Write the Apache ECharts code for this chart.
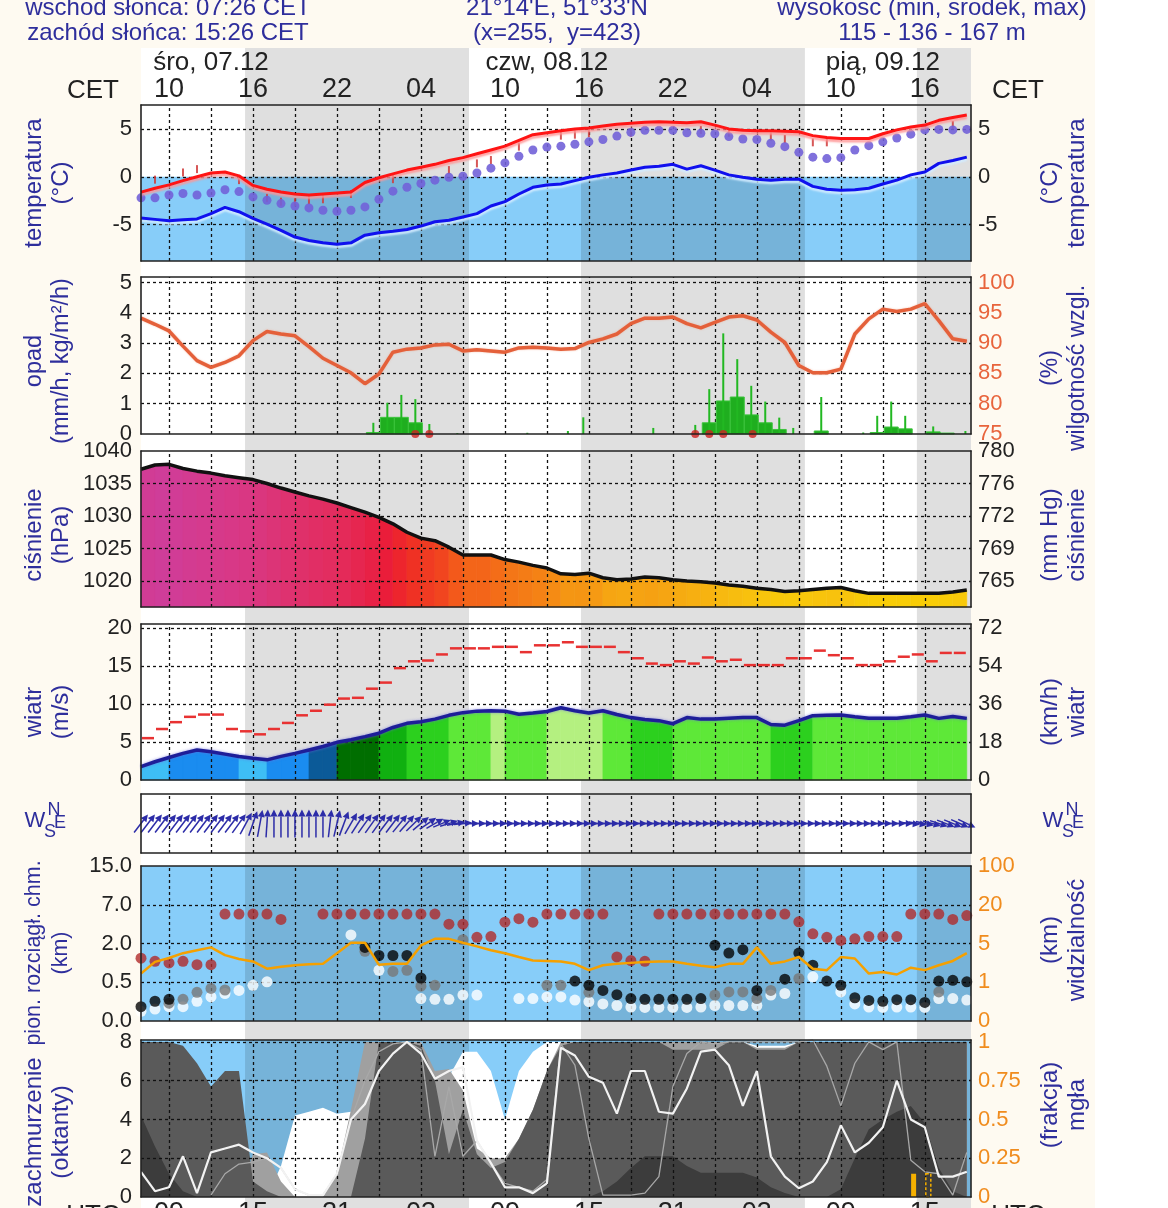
<!DOCTYPE html>
<html lang="pl">
<head>
<meta charset="utf-8">
<title>meteogram</title>
<script src="https://cdn.jsdelivr.net/npm/echarts@6/dist/echarts.min.js"></script>
<style>
html,body{margin:0;padding:0;background:#fefaf1;}
#chart{width:1168px;height:1208px;}
</style>
</head>
<body>
<div id="chart"></div>
<script>
// ================= DATA =================
// time axis: hours since 07.12 08:00 CET (hourly model output)
const hours = Array.from({length: 60}, (_, i) => i);
const startCET = 8;
const sunriseCET = 7 + 26 / 60;   // 07:26
const sunsetCET = 15 + 26 / 60;   // 15:26
const HMAX = 59.3;

const tickHours = [2, 8, 14, 20, 26, 32, 38, 44, 50, 56];
const tickCET = ['10', '16', '22', '04', '10', '16', '22', '04', '10', '16'];
const tickUTC = ['09', '15', '21', '03', '09', '15', '21', '03', '09', '15'];
const dayLabels = ['śro, 07.12', 'czw, 08.12', 'pią, 09.12'];
const dayLabelHours = [5, 29, 53];

// temperature panel (°C)
const tempAir = [-1.6,-1.2,-0.85,-0.4,0.0,0.4,0.5,0.1,-0.9,-1.3,-1.6,-1.8,-1.9,-1.8,-1.7,-1.6,-0.6,-0.1,0.3,0.7,1.0,1.3,1.7,2.0,2.4,2.8,3.2,3.8,4.4,4.6,4.8,5.0,5.1,5.3,5.5,5.6,5.7,5.75,5.7,5.65,5.75,5.4,5.0,4.85,4.8,4.8,4.75,4.7,4.3,4.1,4.0,4.0,4.0,4.5,4.9,5.2,5.4,5.9,6.2,6.45];
const tempDew = [-4.3,-4.45,-4.6,-4.5,-4.4,-3.85,-3.2,-3.65,-4.35,-4.95,-5.6,-6.3,-6.65,-6.9,-7.05,-6.9,-6.1,-5.85,-5.7,-5.5,-5.15,-4.7,-4.55,-4.2,-3.85,-3.05,-2.6,-1.8,-1.1,-0.85,-0.75,-0.4,-0.05,0.2,0.4,0.7,1.0,1.1,1.3,0.8,1.15,0.7,0.2,-0.05,-0.25,-0.35,-0.25,-0.25,-1.0,-1.3,-1.4,-1.35,-1.2,-0.75,-0.35,0.2,0.5,1.4,1.7,2.05];
const tempFelt = [-2.2,-2.2,-1.9,-1.75,-1.9,-1.7,-1.35,-1.55,-2.1,-2.45,-2.8,-3.05,-3.25,-3.5,-3.6,-3.5,-3.15,-2.35,-1.5,-1.1,-0.7,-0.35,-0.05,0.05,0.4,0.9,1.45,2.15,2.8,3.1,3.2,3.4,3.65,3.9,4.25,4.65,4.85,4.85,4.85,4.6,4.55,4.5,4.2,3.95,3.9,3.5,3.15,2.55,2.05,1.9,2.0,2.8,3.25,3.65,4.05,4.45,4.9,4.95,4.9,4.95];
const tempTick = [null,-0.3,null,0.45,0.8,null,null,-0.35,null,-2.2,-2.6,-2.65,-2.45,-2.35,null,-1.8,null,null,-0.25,null,null,null,0.7,null,1.4,1.75,null,3.15,null,null,4.3,4.4,4.55,null,null,4.6,null,null,null,null,4.9,null,4.6,null,null,4.2,3.95,null,3.6,3.6,null,null,null,null,null,null,null,null,5.4,null];

// precipitation (mm/h) and relative humidity (%)
const precipT = [16.6,17.6,18.6,19.6,40.6,41.6,42.6,43.6,44.6,45.6,48.6,52.6,53.6,54.6,56.6,57.6];
const precipV = [0.05,0.55,0.55,0.37,0.37,1.09,1.22,0.63,0.37,0.15,0.1,0.05,0.23,0.17,0.07,0.03];
const spikeT = [16.6,17.6,18.6,19.6,20.6,22.6,27.6,30.5,31.6,36.6,39.6,40.6,41.6,42.6,43.6,44.6,45.6,46.6,48.6,51.6,52.6,53.6,54.6,56.6,58.9];
const spikeV = [0.37,1.03,1.29,1.15,0.33,0.03,0.04,0.1,0.55,0.2,0.3,1.48,3.32,2.47,1.59,1.07,0.54,0.2,1.22,0.05,0.6,1.07,0.6,0.25,0.1];
const snowT = [19.6,20.6,39.6,40.6,41.6,43.7];
const humidity = [94.1,93.1,92.0,89.5,87.1,86.0,86.8,87.9,90.4,91.9,91.5,91.2,89.4,87.5,86.3,85.1,83.3,84.9,88.5,89.0,89.2,89.7,89.8,88.7,88.9,88.7,88.5,89.2,89.3,89.2,89.0,89.1,90.1,90.7,91.5,93.2,94.1,94.1,94.3,93.2,92.5,93.4,94.3,94.5,93.8,91.8,90.1,86.3,85.1,85.1,85.7,91.5,94.0,95.6,95.2,95.6,96.5,93.7,90.7,90.3];
const humTicks = [75, 80, 85, 90, 95, 100];

// pressure (hPa)
const pressure = [1037.2,1037.85,1037.95,1037.3,1036.9,1036.6,1036.2,1035.9,1035.6,1035.0,1034.3,1033.7,1033.1,1032.6,1032.0,1031.3,1030.6,1029.8,1028.8,1027.5,1026.6,1026.2,1025.2,1024.0,1024.0,1024.0,1023.3,1022.9,1022.4,1022.0,1021.1,1021.0,1021.2,1020.5,1020.2,1020.3,1020.6,1020.5,1020.2,1020.0,1019.9,1019.7,1019.4,1019.2,1018.9,1018.7,1018.4,1018.5,1018.7,1018.9,1019.0,1018.5,1018.1,1018.1,1018.1,1018.1,1018.1,1018.1,1018.3,1018.6];
const presTicks = [1020, 1025, 1030, 1035, 1040];
const presTicksMmHg = ['765', '769', '772', '776', '780'];

// wind (m/s)
const windSpeed = [1.75,2.4,2.95,3.5,3.95,3.7,3.4,3.1,2.85,2.65,3.1,3.5,3.95,4.4,4.95,5.3,5.7,6.15,6.9,7.45,7.65,8.0,8.5,8.85,9.05,9.1,9.05,8.65,8.8,9.0,9.5,9.1,8.8,9.1,8.6,8.2,7.95,7.8,7.4,8.2,8.0,8.0,8.1,8.2,8.2,7.3,7.2,7.8,8.45,8.5,8.55,8.3,8.1,8.1,8.1,8.3,8.55,8.1,8.35,8.1];
const windGust = [5.5,6.7,7.6,8.3,8.6,8.6,6.7,6.4,6.0,6.7,7.5,8.5,9.1,9.9,10.7,10.8,12.0,12.8,14.7,15.6,15.7,16.5,17.3,17.3,17.3,17.5,17.5,16.8,17.7,17.7,18.1,17.5,17.5,17.5,16.8,16.0,15.3,15.1,15.6,15.3,16.1,15.6,15.8,15.1,15.1,15.1,16.0,16.0,17.0,16.4,16.0,15.1,15.1,15.6,16.2,16.5,15.6,16.7,16.7];
const windClass = [0,0,1,1,1,1,1,0,0,1,1,1,2,2,3,3,3,4,4,5,5,5,6,6,6,7,6,6,6,7,7,7,7,6,6,5,5,5,6,6,6,6,6,6,6,5,5,5,6,6,6,6,6,6,6,6,6,6,6];
const kmhTicks = [0, 18, 36, 54, 72];
// wind direction (deg, from), every half hour from 0 h
const windDir = [230,230,230,230,230,230,230,230,230,230,230,230,230,230,228,
  220,208,196,186,
  180,180,180,180,180,180,180,180,
  190,200,210,
  222,225,228,228,228,230,230,232,234,
  238,242,246,250,255,259,263,266,
  270,270,270,270,270,270,270,270,270,270,270,270,270,270,270,270,270,270,270,270,270,270,270,270,270,270,270,270,270,270,270,270,270,270,270,270,270,270,270,270,270,270,270,270,270,270,270,270,270,270,270,270,270,270,270,270,270,270,270,270,270,270,270,
  274,276,278,280,282,284,285,286,287];

// vertical cloud extent (km) and visibility (km)
const baseTicks = [0, 0.5, 2, 7, 15];
const baseLabels = ['0.0', '0.5', '2.0', '7.0', '15.0'];
const visTicks = [0, 1, 5, 20, 100];
const visLabels = ['0', '1', '5', '20', '100'];
const cloudTop = [1.43,1.31,1.25,1.31,1.18,1.18,5.8,5.8,5.8,5.8,5.1,null,null,5.8,5.8,5.8,5.8,5.8,5.8,5.8,5.8,5.8,4.5,4.5,2.8,2.9,4.75,5.2,4.75,5.8,5.8,5.8,5.8,5.8,1.48,1.34,1.31,5.8,5.8,5.8,5.8,5.8,5.8,5.8,5.8,5.8,5.8,4.8,3.25,2.8,2.4,2.6,2.9,2.9,2.9,5.8,5.8,5.8,5.1,5.6];
const baseBlack = [0.185,0.255,0.28,null,null,null,null,null,null,null,null,null,null,null,null,null,1.85,1.535,1.535,1.535,0.665,null,null,null,null,null,null,null,null,null,null,0.545,0.46,0.395,0.34,0.29,0.28,0.28,0.28,0.28,0.29,1.93,1.63,1.76,0.395,null,0.62,1.63,1.16,0.545,0.46,0.3,0.265,0.255,0.275,0.275,0.24,0.545,0.575,0.515];
const baseGray = [null,null,0.23,0.28,0.37,0.42,0.4,null,null,null,null,null,null,null,null,null,1.7,null,0.92,0.965,0.45,0.46,null,2.5,null,null,null,null,null,0.46,0.46,null,0.37,null,null,null,null,null,null,null,null,0.335,0.375,0.375,0.29,0.395,null,0.65,null,null,null,null,null,null,null,null,null,0.375,null,null];
const baseWhite = [0.125,0.155,0.185,0.185,0.255,0.31,0.355,0.395,0.46,0.515,null,null,null,null,null,3.1,null,0.965,null,null,0.29,0.28,0.28,0.335,0.335,null,null,0.29,0.29,0.31,0.31,0.27,0.25,0.22,0.2,0.18,0.175,0.175,0.175,0.175,0.18,0.2,0.2,0.2,0.2,0.335,0.355,null,0.71,null,0.375,0.22,0.18,0.175,0.18,0.18,0.175,0.29,0.29,0.27];
const visibility = [1.9,3.1,3.5,4.0,4.3,4.6,3.8,3.4,3.15,2.4,2.6,2.75,2.85,2.9,4.0,5.3,5.3,2.8,2.9,2.9,4.8,6.8,6.8,5.3,4.7,4.3,4.0,3.6,3.25,3.2,3.15,2.9,2.25,2.75,2.9,3.0,3.1,3.15,3.15,2.9,2.7,2.55,2.9,2.9,4.6,2.9,3.15,3.6,2.4,2.25,3.6,3.45,1.9,2.05,1.8,2.5,2.25,2.75,3.2,4.0];

// cloud cover (oktas) and fog (fraction)
const coverHigh = [0,0,0,0,0,0,0,0,0,0,1.6,4.2,4.4,4.6,4.3,4.4,5,8,8,8,8,6.1,6.2,7.5,7.5,6.5,4.0,6.5,7.5,8,8,8,8,8,8,8,8,8,8,8,8,8,8,8,7.8,7.8,7.8,8,8,8,8,8,8,8,8,8,8,8,8,8];
const coverMid = [0,0,0,0,0,0,0,0,2.2,2.3,0.8,0,0,0,1.2,4.5,8,8,8,8,8,6.5,6.6,5.5,2.5,2.0,2.0,3.0,4.5,6.5,8,8,8,8,8,8,8,8,8,8,8,8,8,8,7.7,7.7,7.7,8,8,8,8,8,8,8,8,8,8,8,8,8];
const coverLow = [8,8,8,7.8,6.9,5.7,6.5,6.5,0.8,0.3,0,0,0,0,0,0,3,8,8,8,7.8,6.0,2.2,4.5,2.2,1.5,1.8,3.0,4.5,6.5,7.8,8,8,8,8,8,8,8,7.6,7.6,7.6,7.6,8,8,7.6,7.6,7.6,8,8,8,8,8,8,8,8,8,8,8,8,8];
const coverConv = [4.2,2.6,1.2,0.3,0,0,0,0,0,0,0,0,0,0,0,0,0,0,0,0,0,0,0,0,0,0,0,0,0,0,0,0,0,0.3,0.8,1.5,2.1,2.1,2.1,1.6,1.25,1.25,1.25,1.25,1.0,0.5,0.2,0,0,0,0.4,2.0,3.5,4.0,4.4,4.7,3.8,1.5,0.3,0];
const lineBright = [1.3,0.3,0.5,2.1,0.2,2.3,2.5,2.7,2.3,2.0,1.5,0.4,0.1,0.1,1.2,4.0,4.8,6.5,7.4,8.0,7.4,6.1,6.5,6.7,2.9,1.75,0.5,0.5,0.2,0.7,7.7,7.3,6.2,5.9,4.3,6.5,6.5,4.4,4.3,5.6,7.5,7.6,6.8,4.7,6.5,2.1,1.05,0.45,0.8,1.8,3.7,2.3,2.8,3.6,6.0,4.0,3.6,1.05,1.05,1.3];
const lineDim = [null,null,null,null,null,0.1,1.2,1.7,1.8,2.0,1.5,0.4,0.1,0.1,1.2,4.0,6.0,7.5,7.9,8.0,7.6,2.1,5.7,2.1,2.9,1.75,0.7,0.5,0.3,0.9,7.9,6.8,3.0,0.1,0.1,0.1,0.2,1.05,5.7,7.4,8.0,7.9,8.0,8.0,8.0,8.0,8.0,8.0,8.1,6.75,4.7,6.9,8.0,7.6,8.0,1.9,1.3,1.2,0.1,2.3];
const fogT = [55.2, 56.25];
const fogV = [0.15, 0.15];
const fogTicks = [0, 0.25, 0.5, 0.75, 1];

// ================= HELPERS =================
const FN = "'Liberation Sans',Arial,sans-serif";
const NAVY = '#2e2e9c';
const pairs = arr => hours.map((h, i) => [h, arr[i]]);
const toIdx = (v, ticks) => {
  if (v == null) return null;
  for (let i = 0; i < ticks.length - 1; i++) {
    if (v <= ticks[i + 1]) return i + (v - ticks[i]) / (ticks[i + 1] - ticks[i]);
  }
  return ticks.length - 1;
};
const nightSpans = [
  [sunsetCET - startCET, sunriseCET + 24 - startCET],
  [sunsetCET + 24 - startCET, sunriseCET + 48 - startCET],
  [sunsetCET + 48 - startCET, HMAX]
];
const vGrid = [];
tickHours.forEach(t => { vGrid.push(t); if (t + 3 < 58) vGrid.push(t + 3); });

function lerpColor(stops, v) {
  if (v <= stops[0][0]) return stops[0][1];
  for (let i = 0; i < stops.length - 1; i++) {
    const [a, ca] = stops[i], [b, cb] = stops[i + 1];
    if (v <= b) {
      const t = (v - a) / (b - a);
      const pa = [1, 3, 5].map(k => parseInt(ca.substr(k, 2), 16));
      const pb = [1, 3, 5].map(k => parseInt(cb.substr(k, 2), 16));
      return 'rgb(' + pa.map((x, k) => Math.round(x + (pb[k] - x) * t)).join(',') + ')';
    }
  }
  return stops[stops.length - 1][1];
}
const presStops = [[1017.5,'#f9d400'],[1018.7,'#f8c60c'],[1019.6,'#f7b810'],[1020.4,'#f6a412'],[1021.5,'#f58c14'],[1023.5,'#f47018'],[1025,'#f2501c'],[1027.5,'#ee2a26'],[1029.5,'#ea1c3c'],[1031.5,'#e42a58'],[1034,'#de3270'],[1036,'#d83886'],[1038,'#cf3d9a']];
const windPalette = ['#3ebef5', '#1a8cf0', '#0b5a98', '#006e00', '#10b010', '#2cd01e', '#5ee838', '#b4f080'];

// ================= PANELS =================
const panels = [
  {top: 105, h: 156, min: -8.8, max: 7.5},   // 1 temperature
  {top: 277, h: 157, min: 0, max: 5.18},     // 2 precipitation
  {top: 451, h: 156, min: 1016, max: 1040},  // 3 pressure
  {top: 624, h: 156, min: 0, max: 20.5},     // 4 wind
  {top: 794, h: 59, min: 0, max: 1},         // 5 wind direction
  {top: 866, h: 155, min: 0, max: 4},        // 6 clouds / visibility
  {top: 1040, h: 157, min: 0, max: 8.1}      // 7 cloud cover
];
// right-axis ranges derived from left-axis ranges
const rightRange = [
  [panels[0].min, panels[0].max],
  [75 + panels[1].min * 5, 75 + panels[1].max * 5],
  [panels[2].min, panels[2].max],
  [panels[3].min * 3.6, panels[3].max * 3.6],
  [0, 1],
  [panels[5].min, panels[5].max],
  [panels[6].min / 8, panels[6].max / 8]
];

const gridBase = {left: 141, width: 830, show: true, backgroundColor: '#fff', borderWidth: 0, outerBoundsMode: 'none', containLabel: false};
const grids = [Object.assign({}, gridBase, {top: 48, height: 1160, z: -30})];
panels.forEach(p => grids.push(Object.assign({}, gridBase, {top: p.top, height: p.h, z: -10})));

const LBL = {fontFamily: FN, fontSize: 22, color: '#222'};
const border = {show: true, onZero: false, lineStyle: {color: '#222', width: 1.6}};
const xAxes = [{gridIndex: 0, type: 'value', min: 0, max: HMAX, show: false}];
const yAxes = [{gridIndex: 0, type: 'value', min: 0, max: 1, show: false}];

const axCfg = [
  {lvals: [-5, 0, 5], lfmt: v => String(v), rvals: [-5, 0, 5], rfmt: v => String(v), rcol: '#222'},
  {lvals: [0,1,2,3,4,5], lfmt: v => String(v), rvals: humTicks, rfmt: v => String(v), rcol: '#e8643c'},
  {lvals: presTicks, lfmt: v => String(v), rvals: presTicks, rfmt: v => presTicksMmHg[presTicks.indexOf(v)], rcol: '#222'},
  {lvals: [0,5,10,15,20], lfmt: v => String(v), rvals: kmhTicks, rfmt: v => String(v), rcol: '#222'},
  {lvals: [], lfmt: v => '', rvals: [], rfmt: v => '', rcol: '#222'},
  {lvals: [0,1,2,3,4], lfmt: v => baseLabels[v], rvals: [0,1,2,3,4], rfmt: v => visLabels[v], rcol: '#f08c1e'},
  {lvals: [0,2,4,6,8], lfmt: v => String(v), rvals: fogTicks, rfmt: v => String(v), rcol: '#f08c1e'}
];

panels.forEach((p, k) => {
  const gi = k + 1;
  const cfg = axCfg[k];
  const xb = {gridIndex: gi, type: 'value', min: 0, max: HMAX, z: 20, splitLine: {show: false}, axisTick: {show: false}, axisLabel: {show: false}, axisLine: border};
  const bottom = Object.assign({}, xb, {position: 'bottom'});
  const top = Object.assign({}, xb, {position: 'top'});
  if (k === 0) {
    top.axisLabel = {show: true, fontFamily: FN, fontSize: 27, color: '#222', margin: 2, customValues: tickHours, formatter: v => tickCET[tickHours.indexOf(v)]};
  }
  if (k === 6) {
    bottom.axisLabel = {show: true, fontFamily: FN, fontSize: 27, color: '#222', margin: 3, customValues: tickHours, formatter: v => tickUTC[tickHours.indexOf(v)]};
  }
  xAxes.push(bottom, top);
  const yb = {gridIndex: gi, type: 'value', z: 20, splitLine: {show: false}, axisTick: {show: false}, axisLine: border};
  yAxes.push(Object.assign({}, yb, {position: 'left', min: p.min, max: p.max, axisLabel: Object.assign({}, LBL, {margin: 9, customValues: cfg.lvals, formatter: cfg.lfmt})}));
  yAxes.push(Object.assign({}, yb, {position: 'right', min: rightRange[k][0], max: rightRange[k][1], axisLabel: Object.assign({}, LBL, {color: cfg.rcol, margin: 7, customValues: cfg.rvals, formatter: cfg.rfmt})}));
});
// day labels axis on temperature grid
xAxes.push({gridIndex: 1, type: 'value', min: 0, max: HMAX, position: 'top', z: 20, axisLine: {show: false}, axisTick: {show: false}, splitLine: {show: false},
  axisLabel: {show: true, fontFamily: FN, fontSize: 26, color: '#222', margin: 29, customValues: dayLabelHours, formatter: v => dayLabels[dayLabelHours.indexOf(v)]}});

const XI = k => 2 * k - 1;  // bottom x axis index of panel k (1..7)
const YL = k => 2 * k - 1;
const YR = k => 2 * k;

const series = [];
// backdrop night bands (also visible between panels)
series.push({type: 'line', xAxisIndex: 0, yAxisIndex: 0, data: [], silent: true,
  markArea: {silent: true, z: -25, itemStyle: {color: '#e0e0e0'}, data: nightSpans.map(s => [{xAxis: s[0]}, {xAxis: s[1]}])}});

function helper(k, hLines, nightZ, gridZ) {
  const lines = vGrid.map(h => ({xAxis: h})).concat(hLines.map(v => ({yAxis: v})));
  return {type: 'line', xAxisIndex: XI(k), yAxisIndex: YL(k), data: [], silent: true,
    markArea: {silent: true, z: nightZ, itemStyle: {color: 'rgba(0,0,0,0.125)'}, data: nightSpans.map(s => [{xAxis: s[0]}, {xAxis: s[1]}])},
    markLine: {silent: true, z: gridZ, symbol: ['none', 'none'], label: {show: false}, lineStyle: {color: '#111', width: 1.3, type: [3, 3]}, emphasis: {disabled: true}, data: lines}};
}
function fillArea(k, y0, y1, color, z) {
  return {type: 'line', xAxisIndex: XI(k), yAxisIndex: YL(k), data: [], silent: true,
    markArea: {silent: true, z: z, itemStyle: {color: color}, data: [[{xAxis: 0, yAxis: y0}, {xAxis: HMAX, yAxis: y1}]]}};
}

// ---- 1 temperature ----
series.push(fillArea(1, panels[0].min, 0, '#87cdf9', 1));
series.push(helper(1, [-5, 0, 5], 2, 3));
series.push({type: 'scatter', xAxisIndex: XI(1), yAxisIndex: YL(1), z: 6, silent: true, symbol: 'rect', symbolSize: [2, 8], data: pairs(tempTick), itemStyle: {color: '#d03a3a', opacity: 0.85}});
series.push({type: 'scatter', xAxisIndex: XI(1), yAxisIndex: YL(1), z: 6, silent: true, symbolSize: 9, data: pairs(tempFelt), itemStyle: {color: '#7262d8', opacity: 0.9}});
series.push({type: 'line', xAxisIndex: XI(1), yAxisIndex: YL(1), z: 8, silent: true, symbol: 'none', data: pairs(tempDew),
  lineStyle: {color: '#1010ee', width: 3, shadowColor: 'rgba(210,235,255,0.95)', shadowBlur: 2, shadowOffsetY: 2.5}});
series.push({type: 'line', xAxisIndex: XI(1), yAxisIndex: YL(1), z: 8, silent: true, symbol: 'none', data: pairs(tempAir),
  lineStyle: {color: '#ff1414', width: 3, shadowColor: 'rgba(255,150,150,0.9)', shadowBlur: 2, shadowOffsetY: 2.5}});

// ---- 2 precipitation / humidity ----
series.push(helper(2, [1, 2, 3, 4, 5], 2, 3));
series.push({type: 'custom', xAxisIndex: XI(2), yAxisIndex: YL(2), z: 4, silent: true,
  data: precipT.map((t, i) => [t, precipV[i]]),
  renderItem: (params, api) => {
    const t = api.value(0), v = api.value(1);
    const a = api.coord([t - 0.5, v]), b = api.coord([t + 0.5, 0]);
    return {type: 'rect', shape: {x: a[0], y: a[1], width: b[0] - a[0], height: b[1] - a[1]}, style: {fill: '#1fae1f', stroke: '#3cc43c', lineWidth: 1}};
  }});
series.push({type: 'custom', xAxisIndex: XI(2), yAxisIndex: YL(2), z: 4, silent: true,
  data: spikeT.map((t, i) => [t, spikeV[i]]),
  renderItem: (params, api) => {
    const t = api.value(0), v = api.value(1);
    const a = api.coord([t, v]), b = api.coord([t, 0]);
    return {type: 'line', shape: {x1: a[0], y1: a[1], x2: b[0], y2: b[1]}, style: {stroke: '#22b822', lineWidth: 2}};
  }});
series.push({type: 'line', xAxisIndex: XI(2), yAxisIndex: YR(2), z: 8, silent: true, symbol: 'none', data: pairs(humidity),
  lineStyle: {color: '#e4603a', width: 3.5, shadowColor: 'rgba(240,150,120,0.6)', shadowBlur: 2}});
series.push({type: 'scatter', xAxisIndex: XI(2), yAxisIndex: YL(2), z: 9, silent: true, symbolSize: 8,
  data: snowT.map(t => [t, 0]), itemStyle: {color: '#d02020'}});

// ---- 3 pressure ----
series.push(helper(3, [1020, 1025, 1030, 1035], 2, 4));
series.push({type: 'custom', xAxisIndex: XI(3), yAxisIndex: YL(3), z: 3, silent: true,
  data: hours.slice(0, -1).map((h, i) => [h, pressure[i], hours[i + 1], pressure[i + 1]]),
  encode: {x: [0, 2], y: [1, 3]},
  renderItem: (params, api) => {
    const x0 = api.value(0), y0 = api.value(1), x1 = api.value(2), y1 = api.value(3);
    const base = panels[2].min;
    const pts = [api.coord([x0, y0]), api.coord([x1, y1]), api.coord([x1, base]), api.coord([x0, base])];
    const c = lerpColor(presStops, (y0 + y1) / 2);
    return {type: 'polygon', shape: {points: pts}, style: {fill: c, stroke: c, lineWidth: 0.6}};
  }});
series.push({type: 'line', xAxisIndex: XI(3), yAxisIndex: YL(3), z: 8, silent: true, symbol: 'none', data: pairs(pressure),
  lineStyle: {color: '#111', width: 3.5}});

// ---- 4 wind ----
series.push(helper(4, [5, 10, 15, 20], 2, 4));
series.push({type: 'custom', xAxisIndex: XI(4), yAxisIndex: YL(4), z: 3, silent: true,
  data: hours.slice(0, -1).map((h, i) => [h, windSpeed[i], hours[i + 1], windSpeed[i + 1], windClass[i]]),
  encode: {x: [0, 2], y: [1, 3]},
  renderItem: (params, api) => {
    const x0 = api.value(0), y0 = api.value(1), x1 = api.value(2), y1 = api.value(3), c = windPalette[api.value(4)];
    const pts = [api.coord([x0, y0]), api.coord([x1, y1]), api.coord([x1, 0]), api.coord([x0, 0])];
    return {type: 'polygon', shape: {points: pts}, style: {fill: c, stroke: c, lineWidth: 0.6}};
  }});
series.push({type: 'custom', xAxisIndex: XI(4), yAxisIndex: YL(4), z: 6, silent: true,
  data: windGust.map((g, i) => [hours[i], g]),
  renderItem: (params, api) => {
    const h = api.value(0), g = api.value(1);
    const a = api.coord([h, g]), b = api.coord([h + 1, g]);
    return {type: 'line', shape: {x1: a[0] + 1, y1: a[1], x2: b[0] - 1, y2: b[1]}, style: {stroke: '#e83232', lineWidth: 2.5}};
  }});
series.push({type: 'line', xAxisIndex: XI(4), yAxisIndex: YL(4), z: 8, silent: true, symbol: 'none', data: pairs(windSpeed),
  lineStyle: {color: '#1e1e98', width: 3.5, shadowColor: 'rgba(110,110,220,0.7)', shadowBlur: 3}});

// ---- 5 wind direction ----
series.push(helper(5, [], 2, 3));
series.push({type: 'custom', xAxisIndex: XI(5), yAxisIndex: YL(5), z: 6, silent: true,
  data: windDir.map((d, i) => [i * 0.5, d]),
  renderItem: (params, api) => {
    const c = api.coord([api.value(0), 0.5]);
    const to = (api.value(1) + 180) * Math.PI / 180;
    const LX = 18, LY = 28;
    const dx = Math.sin(to) * LX, dy = -Math.cos(to) * LY;
    const len = Math.hypot(dx, dy), nx = dx / len, ny = dy / len;
    const tip = [c[0] + dx / 2, c[1] + dy / 2], tail = [c[0] - dx / 2, c[1] - dy / 2];
    const hb = [tip[0] - nx * 7, tip[1] - ny * 7];
    const px = -ny * 3.5, py = nx * 3.5;
    return {type: 'group', children: [
      {type: 'line', shape: {x1: tail[0], y1: tail[1], x2: hb[0], y2: hb[1]}, style: {stroke: '#2c2ca8', lineWidth: 1.5}},
      {type: 'polygon', shape: {points: [tip, [hb[0] + px, hb[1] + py], [hb[0] - px, hb[1] - py]]}, style: {fill: '#2c2ca8'}}
    ]};
  }});

// ---- 6 clouds / visibility ----
series.push(fillArea(6, 0, 4, '#87cdf9', 1));
series.push(helper(6, [1, 2, 3], 2, 3));
const dotSeries = (arr, color, z) => ({type: 'scatter', xAxisIndex: XI(6), yAxisIndex: YL(6), z: z, silent: true, symbolSize: 11,
  data: hours.map((h, i) => [h, toIdx(arr[i], baseTicks)]), itemStyle: {color: color}});
series.push(dotSeries(baseWhite, '#ffffff', 5));
series.push(dotSeries(baseGray, '#787878', 5));
series.push(dotSeries(baseBlack, '#050505', 5));
series.push(dotSeries(cloudTop, '#b02a2a', 5));
series.push({type: 'line', xAxisIndex: XI(6), yAxisIndex: YL(6), z: 7, silent: true, symbol: 'none',
  data: hours.map((h, i) => [h, toIdx(visibility[i], visTicks)]), lineStyle: {color: '#f5a000', width: 2.5}});

// ---- 7 cloud cover (sky darkened at night, clouds opaque above it) ----
series.push(fillArea(7, 0, panels[6].max, '#87cdf9', 1));
series.push(helper(7, [2, 4, 6, 8], 2, 8));
const layer = (arr, color, z) => ({type: 'line', xAxisIndex: XI(7), yAxisIndex: YL(7), z: z, silent: true, symbol: 'none',
  data: pairs(arr), lineStyle: {width: 0}, areaStyle: {color: color, opacity: 1}});
series.push(layer(coverHigh, '#ffffff', 3));
series.push(layer(coverMid, '#a0a0a0', 4));
series.push(layer(coverLow, '#5a5a5a', 5));
series.push(layer(coverConv, '#3c3c3c', 6));
series.push({type: 'line', xAxisIndex: XI(7), yAxisIndex: YL(7), z: 9, silent: true, symbol: 'none', data: pairs(lineDim),
  lineStyle: {color: '#a8a8a8', width: 1.3}});
series.push({type: 'line', xAxisIndex: XI(7), yAxisIndex: YL(7), z: 9, silent: true, symbol: 'none', data: pairs(lineBright),
  lineStyle: {color: '#f2f2f2', width: 2.2}});
series.push({type: 'custom', xAxisIndex: XI(7), yAxisIndex: YR(7), z: 10, silent: true,
  data: fogT.map((t, i) => [t, fogV[i], i]),
  renderItem: (params, api) => {
    const t = api.value(0), v = api.value(1), i = api.value(2);
    const a = api.coord([t, v]), b = api.coord([t, 0]);
    return {type: 'rect', shape: {x: a[0] - 2.5, y: a[1], width: 5, height: b[1] - a[1]},
      style: i === 0 ? {fill: '#f5b000'} : {fill: 'rgba(60,60,60,0.6)', stroke: '#f5b000', lineWidth: 1.5, lineDash: [3, 2]}};
  }});

// ================= TEXT (graphic) =================
const G = [];
G.push({type: 'rect', z: -100, shape: {x: 1095, y: 0, width: 73, height: 1208}, style: {fill: '#ffffff'}});
const txt = (text, x, y, size, color, extra) => Object.assign({type: 'text', x: x, y: y, z: 50, silent: true,
  style: {text: text, fontFamily: FN, fontSize: size, fill: color, align: 'center', verticalAlign: 'middle', lineHeight: 27}}, extra || {});
G.push(txt('wschod słonca: 07:26 CET', 168, 8, 24, NAVY));
G.push(txt('zachód słońca: 15:26 CET', 168, 33, 24, NAVY));
G.push(txt("21°14'E, 51°33'N", 557, 8, 24, NAVY));
G.push(txt('(x=255,  y=423)', 557, 33, 24, NAVY));
G.push(txt('wysokosc (min, srodek, max)', 932, 8, 24, NAVY));
G.push(txt('115 - 136 - 167 m', 932, 33, 24, NAVY));
G.push(txt('CET', 93, 91, 26, '#222'));
G.push(txt('CET', 1018, 91, 26, '#222'));
G.push(txt('UTC', 93, 1216, 26, '#222'));
G.push(txt('UTC', 1018, 1216, 26, '#222'));
const rot = {rotation: Math.PI / 2};
const leftTitles = [['temperatura\n(°C)', 183, 24], ['opad\n(mm/h, kg/m²/h)', 361, 23.5], ['ciśnienie\n(hPa)', 535, 24], ['wiatr\n(m/s)', 712, 24], ['pion. rozciągł. chm.\n(km)', 953, 21.5], ['zachmurzenie\n(oktanty)', 1132, 24]];
const rightTitles = [['(°C)\ntemperatura', 183, 24], ['(%)\nwilgotność wzgl.', 368, 23], ['(mm Hg)\nciśnienie', 535, 24], ['(km/h)\nwiatr', 712, 24], ['(km)\nwidzialność', 940, 24], ['(frakcja)\nmgła', 1105, 24]];
leftTitles.forEach(([t, y, s]) => G.push(txt(t, 48, y, s, NAVY, rot)));
rightTitles.forEach(([t, y, s]) => G.push(txt(t, 1064, y, s, NAVY, rot)));
// compass glyphs
[[44, 822], [1062, 822]].forEach(([cx, cy]) => {
  G.push(txt('W', cx - 9, cy - 1, 22, NAVY));
  G.push(txt('N', cx + 10, cy - 12, 18, NAVY));
  G.push(txt('S', cx + 6, cy + 10, 18, NAVY));
  G.push(txt('E', cx + 16, cy + 1, 18, NAVY));
});

const chart = echarts.init(document.getElementById('chart'), null, {renderer: 'canvas'});
chart.setOption({
  animation: false,
  backgroundColor: 'transparent',
  grid: grids,
  xAxis: xAxes,
  yAxis: yAxes,
  series: series,
  graphic: G
});
</script>
</body>
</html>
